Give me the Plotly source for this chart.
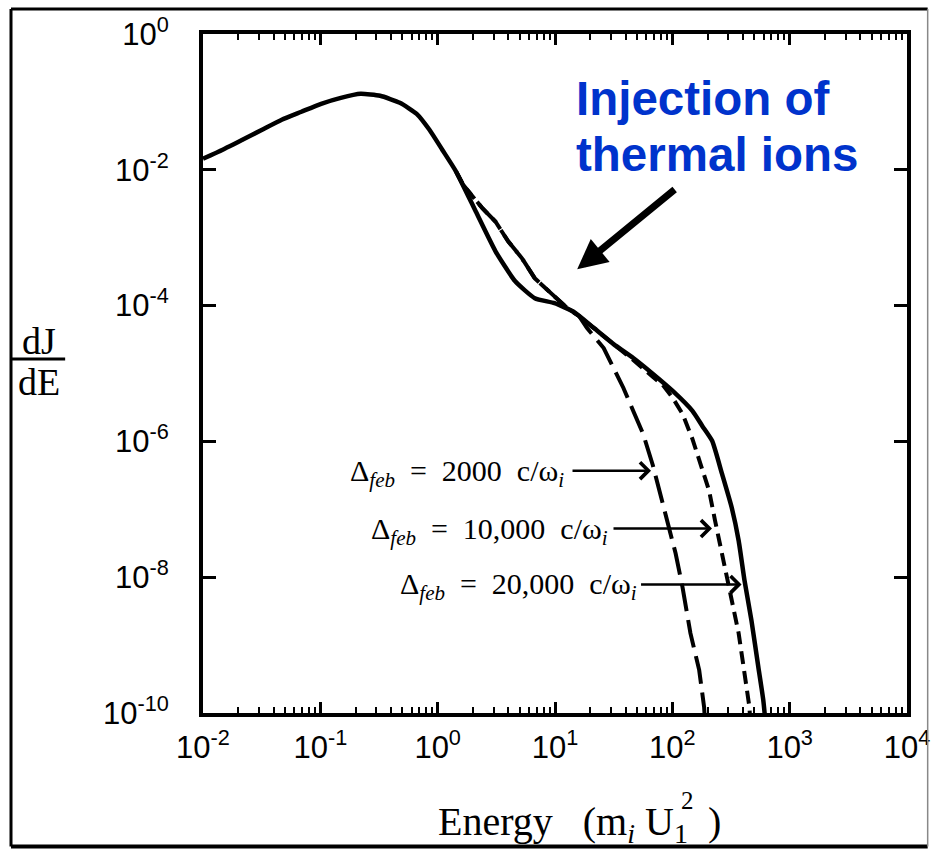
import math
import plotly.graph_objects as go

# ---------------- data ----------------
# Delta_feb = 20,000 c/omega_i  (solid)
E_20000 = [0.0100, 0.01472, 0.02168, 0.0319, 0.0469, 0.0690, 0.1016, 0.1496, 0.2203,
           0.3236, 0.4764, 0.6622, 0.8511, 1.094, 1.435, 2.113, 3.112, 4.581, 6.730,
           9.908, 14.59, 21.48, 31.55, 46.45, 68.39, 100.7, 148.3, 179.9, 218.3,
           264.9, 320.6, 367.3, 412.1, 472.1, 540.8, 595.7, 642.7]
J_20000 = [0.0146, 0.0198, 0.0277, 0.0389, 0.0546, 0.0716, 0.0938, 0.1148, 0.1315,
           0.1230, 0.0970, 0.0668, 0.0389, 0.01977, 0.00942, 0.00243, 6.30e-4, 2.28e-4,
           1.285e-4, 1.084e-4, 8.0e-5, 4.66e-5, 2.71e-5, 1.69e-5, 9.84e-6, 5.53e-6,
           2.81e-6, 1.69e-6, 1.02e-6, 3.34e-7, 1.06e-7, 3.47e-8, 8.97e-9, 2.32e-9,
           4.73e-10, 1.55e-10, 4e-11]

# Delta_feb = 10,000 c/omega_i  (short dashes)
E_10000 = [1.435, 1.641, 2.415, 3.105, 3.990, 5.233, 6.730, 9.354, 12.74, 16.06,
           21.48, 31.55, 46.45, 68.39, 82.99, 100.7, 122.2, 148.3, 179.9, 205.8,
           231.2, 264.9, 302.9, 367.3, 412.1, 453.9, 472.0]
J_10000 = [0.00942, 6.07e-3, 2.69e-3, 1.73e-3, 8.83e-4, 4.97e-4, 2.52e-4, 1.47e-4,
           9.16e-5, 6.98e-5, 4.66e-5, 2.62e-5, 1.58e-5, 8.89e-6, 6.78e-6, 4.37e-6,
           2.54e-6, 1.09e-6, 4.09e-7, 1.88e-7, 6.83e-8, 2.23e-8, 7.08e-9, 1.50e-9,
           3.86e-10, 1.22e-10, 4e-11]

# Delta_feb = 2000 c/omega_i  (long dashes)
E_2000 = [1.435, 1.641, 2.415, 3.105, 3.990, 5.233, 6.730, 9.354, 12.74, 16.06,
          18.75, 26.0, 31.55, 38.3, 46.45, 56.4, 68.4, 87.9, 106.7, 122.2, 142.6,
          169.4, 186.6, 194.1]
J_2000 = [0.00942, 6.07e-3, 2.69e-3, 1.73e-3, 8.83e-4, 4.97e-4, 2.52e-4, 1.47e-4,
          9.16e-5, 6.98e-5, 4.66e-5, 2.37e-5, 1.20e-5, 6.12e-6, 2.81e-6, 1.29e-6,
          4.38e-7, 8.65e-8, 2.23e-8, 7.08e-9, 1.50e-9, 4.28e-10, 1.22e-10, 4e-11]

x_tickvals = [1e-2, 1e-1, 1e0, 1e1, 1e2, 1e3, 1e4]
x_ticktext = ["10<sup>-2</sup>", "10<sup>-1</sup>", "10<sup>0</sup>", "10<sup>1</sup>",
              "10<sup>2</sup>", "10<sup>3</sup>", "10<sup>4</sup>"]
y_tickvals = [1e0, 1e-2, 1e-4, 1e-6, 1e-8, 1e-10]
y_ticktext = ["10<sup>0</sup>", "10<sup>-2</sup>", "10<sup>-4</sup>", "10<sup>-6</sup>",
              "10<sup>-8</sup>", "10<sup>-10</sup>"]

labels = ["Δ<sub><i>feb</i></sub>  =  2000  c/ω<sub><i>i</i></sub>",
          "Δ<sub><i>feb</i></sub>  =  10,000  c/ω<sub><i>i</i></sub>",
          "Δ<sub><i>feb</i></sub>  =  20,000  c/ω<sub><i>i</i></sub>"]
# where each label arrow points (energy, dJ/dE)
label_tips = [(65.8, 3.70e-7), (217.8, 5.21e-8), (389.0, 7.83e-9)]

# ---------------- layout geometry ----------------
W, H = 942, 851
L, R, T, B = 203, 24, 32, 138
PW, PH = W - L - R, H - T - B


def px(xp):
    return (xp - L) / PW


def py(yp):
    return (H - B - yp) / PH


serif = "Liberation Serif, Times New Roman, serif"
sans = "Liberation Sans, Arial, Helvetica, sans-serif"

fig = go.Figure()
fig.add_trace(go.Scatter(x=E_2000, y=J_2000, mode="lines",
                         line=dict(color="black", width=4, dash="28px,9px")))
fig.add_trace(go.Scatter(x=E_10000, y=J_10000, mode="lines",
                         line=dict(color="black", width=4, dash="13px,7px")))
fig.add_trace(go.Scatter(x=E_20000, y=J_20000, mode="lines",
                         line=dict(color="black", width=4.5, shape="spline",
                                   smoothing=0.5)))

axis_common = dict(showline=True, linecolor="black", linewidth=4, mirror="ticks",
                   ticks="inside", tickcolor="black", showgrid=False, zeroline=False,
                   tickfont=dict(family=sans, size=31, color="black"))

fig.update_xaxes(type="log", range=[-2, 4], tickmode="array", tickvals=x_tickvals,
                 ticktext=x_ticktext, ticklen=11, tickwidth=3,
                 ticklabelstandoff=4,
                 minor=dict(ticks="inside", ticklen=6, tickwidth=2, tickcolor="black",
                            dtick="D1", showgrid=False),
                 **axis_common)
fig.update_yaxes(type="log", range=[-10, 0], tickmode="array", tickvals=y_tickvals,
                 ticktext=y_ticktext, ticklen=13, tickwidth=3,
                 ticklabelstandoff=24, **axis_common)

ann = []
# blue note
ann.append(dict(xref="paper", yref="paper", x=px(580), y=py(97), xanchor="left",
                yanchor="middle", showarrow=False, text="<b>Injection of</b>",
                font=dict(family=sans, size=47.5, color="#0033cc")))
ann.append(dict(xref="paper", yref="paper", x=px(580), y=py(153), xanchor="left",
                yanchor="middle", showarrow=False, text="<b>thermal ions</b>",
                font=dict(family=sans, size=47.5, color="#0033cc")))
# thick arrow
ann.append(dict(xref="x", yref="y", x=math.log10(15.45), y=math.log10(3.42e-4),
                ax=99, ay=-81, showarrow=True, arrowhead=2, arrowwidth=7,
                arrowsize=0.85, arrowcolor="black", text=""))

# delta labels with arrows
tails = [80, 100, 102]
for (e, j), lab, tl in zip(label_tips, labels, tails):
    ann.append(dict(xref="x", yref="y", x=math.log10(e), y=math.log10(j),
                    ax=-tl, ay=0, showarrow=True, arrowhead=4, arrowwidth=2.5,
                    arrowsize=1.3, arrowcolor="black", text=""))
text_pos = [(572, 472), (616, 530), (646, 586)]
for (xr, yc), lab in zip(text_pos, labels):
    ann.append(dict(xref="paper", yref="paper", x=px(xr), y=py(yc), xanchor="right",
                    yanchor="middle", showarrow=False, text=lab,
                    font=dict(family=serif, size=30, color="black")))

# axis titles
ann.append(dict(xref="paper", yref="paper", x=px(36), y=py(340), xanchor="center",
                yanchor="middle", showarrow=False, text="dJ",
                font=dict(family=serif, size=38, color="black")))
ann.append(dict(xref="paper", yref="paper", x=px(36), y=py(381), xanchor="center",
                yanchor="middle", showarrow=False, text="dE",
                font=dict(family=serif, size=38, color="black")))
ann.append(dict(xref="paper", yref="paper", x=px(440), y=py(824), xanchor="left",
                yanchor="middle", showarrow=False,
                text="Energy   (m<sub><i>i</i></sub> U<sub>1</sub>  )",
                font=dict(family=serif, size=40, color="black")))
ann.append(dict(xref="paper", yref="paper", x=px(695), y=py(801), xanchor="center",
                yanchor="middle", showarrow=False, text="2",
                font=dict(family=serif, size=25, color="black")))

shapes = [
    dict(type="line", xref="paper", yref="paper", x0=px(9), x1=px(63), y0=py(358),
         y1=py(358), line=dict(color="black", width=3)),
    # outer frame
    dict(type="line", xref="paper", yref="paper", x0=px(8), x1=px(8), y0=py(7),
         y1=py(847), line=dict(color="black", width=3)),
    dict(type="line", xref="paper", yref="paper", x0=px(8), x1=px(939), y0=py(7),
         y1=py(7), line=dict(color="black", width=3)),
    dict(type="line", xref="paper", yref="paper", x0=px(8), x1=px(939), y0=py(847),
         y1=py(847), line=dict(color="black", width=4)),
    dict(type="line", xref="paper", yref="paper", x0=px(939), x1=px(939), y0=py(7),
         y1=py(847), line=dict(color="#888888", width=1.5)),
]

fig.update_layout(width=W, height=H, margin=dict(l=L, r=R, t=T, b=B),
                  paper_bgcolor="white", plot_bgcolor="white", showlegend=False,
                  annotations=ann, shapes=shapes)

fig.write_html("out.html")
